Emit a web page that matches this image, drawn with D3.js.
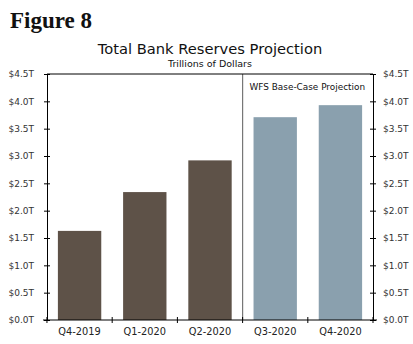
<!DOCTYPE html>
<html><head><meta charset="utf-8">
<script src="https://cdn.jsdelivr.net/npm/d3@7"></script>
<style>body{margin:0;background:#fff}svg{display:block}</style>
</head><body>
<script>
const categories = ["Q4-2019","Q1-2020","Q2-2020","Q3-2020","Q4-2020"];
const values = [1.63, 2.34, 2.92, 3.71, 3.93];
const projected = [false, false, false, true, true];
const tickValues = [0,0.5,1,1.5,2,2.5,3,3.5,4,4.5];
const W = 413, H = 344;
const m = {left:47, right:40, top:74, bottom:24};
const svg = d3.select("body").append("svg").attr("width",W).attr("height",H);
const x = d3.scaleBand().domain(categories).range([m.left, W-m.right]).paddingInner(0.335).paddingOuter(0.167);
const y = d3.scaleLinear().domain([0,4.5]).range([H-m.bottom, m.top]);
const fmt = d => "$" + d.toFixed(1) + "T";
const font = "Tahoma, 'DejaVu Sans', Verdana, sans-serif";

svg.append("text").attr("x",10).attr("y",28).attr("font-family","'Liberation Serif', serif")
  .attr("font-weight","bold").attr("font-size",23).attr("fill","#111").text("Figure 8");
svg.append("text").attr("x",210).attr("y",54).attr("text-anchor","middle").attr("font-family",font)
  .attr("font-size",14.7).attr("fill","#111").text("Total Bank Reserves Projection");
svg.append("text").attr("x",210).attr("y",67).attr("text-anchor","middle").attr("font-family",font)
  .attr("font-size",9.5).attr("fill","#111").text("Trillions of Dollars");

// bars
svg.selectAll("rect.bar").data(categories).enter().append("rect")
  .attr("x",d=>x(d)).attr("width",x.bandwidth())
  .attr("y",(d,i)=>y(values[i])).attr("height",(d,i)=>y(0)-y(values[i]))
  .attr("fill",(d,i)=>projected[i] ? "#8aa0ae" : "#5e5248");

// divider
const step = x.step();
const divX = x(categories[3]) - x.paddingInner()*step/2;
svg.append("line").attr("x1",divX).attr("x2",divX).attr("y1",y(4.5)).attr("y2",y(0))
  .attr("stroke","#777").attr("stroke-width",1.2);
svg.append("text").attr("x",divX+7).attr("y",90).attr("font-family",font).attr("font-size",8.9)
  .attr("fill","#111").text("WFS Base-Case Projection");

// top border
svg.append("line").attr("x1",m.left).attr("x2",W-m.right).attr("y1",y(4.5)).attr("y2",y(4.5))
  .attr("stroke","#000").attr("stroke-width",1);

// axes
const left = svg.append("g").attr("transform",`translate(${m.left},0)`)
  .call(d3.axisLeft(y).tickValues(tickValues).tickFormat(fmt).tickSizeInner(3).tickSizeOuter(0).tickPadding(10));
const right = svg.append("g").attr("transform",`translate(${W-m.right},0)`)
  .call(d3.axisRight(y).tickValues(tickValues).tickFormat(fmt).tickSizeInner(3).tickSizeOuter(0).tickPadding(7));
[left,right].forEach(g=>{
  g.selectAll(".tick line").attr("x1",-3).attr("x2",3).attr("stroke","#000");
  g.select(".domain").attr("stroke","#000");
  g.selectAll("text").attr("font-family",font).attr("font-size",9).attr("fill","#333");
});
const boundaries = categories.map(c => x(c) - x.paddingInner()*step/2).concat([W-m.right]);
const bottom = svg.append("g").attr("transform",`translate(0,${H-m.bottom})`);
bottom.append("line").attr("x1",m.left-4).attr("x2",W-m.right+4).attr("stroke","#000");
bottom.selectAll("line.t").data(boundaries).enter().append("line")
  .attr("x1",d=>d).attr("x2",d=>d).attr("y1",-3).attr("y2",3).attr("stroke","#000");
bottom.selectAll("text").data(categories).enter().append("text")
  .attr("x",d=>x(d)+x.bandwidth()/2).attr("y",15).attr("text-anchor","middle")
  .attr("font-family",font).attr("font-size",9.8).attr("fill","#222").text(d=>d);
</script>
</body></html>
